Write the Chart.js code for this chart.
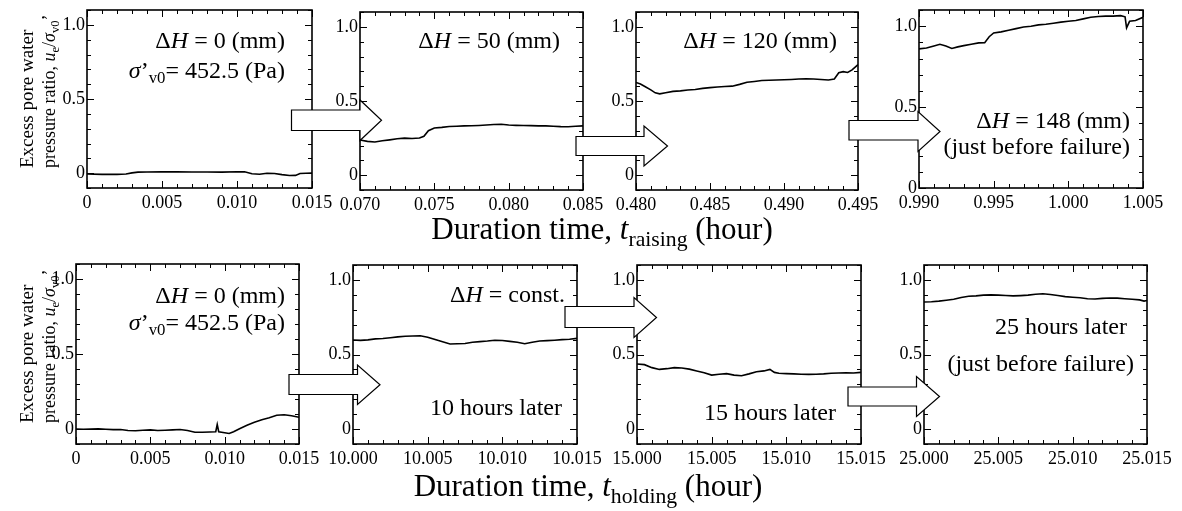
<!DOCTYPE html>
<html lang="en">
<head>
<meta charset="UTF-8">
<title>Excess pore water pressure ratio</title>
<script src="https://cdn.jsdelivr.net/npm/chart.js"></script>
<style>
  body { margin: 0; background: #fff; }
  #fig {
    position: relative; width: 1182px; height: 511px; overflow: hidden; background: #fff;
    font-family: 'Liberation Serif', 'Times New Roman', serif; color: #000;
  }
  .panel { position: absolute; }
  .note { position: absolute; font-size: 24px; line-height: 24px; white-space: nowrap; text-align: right; }
  .note sub, .ytitle sub, .xtitle sub { font-size: 0.7em; vertical-align: -0.3em; line-height: 0; }
  .ytitle {
    position: absolute; font-size: 19px; line-height: 22px; white-space: nowrap;
    transform-origin: 0 0; transform: rotate(-90deg);
  }
  .ytitle.l2 { font-size: 18px; }
  .xtitle { position: absolute; font-size: 31px; line-height: 32px; white-space: nowrap; transform: translateX(-50%); }
  #arrows { position: absolute; left: 0; top: 0; }
</style>
</head>
<body>
<div id="fig">
  <div id="charts"></div>

  <svg id="arrows" width="1182" height="511"></svg>

  <!-- y axis titles -->
  <div class="ytitle" style="left:16px; top:168px;">Excess pore water</div>
  <div class="ytitle l2" style="left:38px; top:168px;">pressure ratio, <i>u</i><sub>e</sub>/<i>σ</i><sub>v0</sub>’</div>
  <div class="ytitle" style="left:16px; top:423px;">Excess pore water</div>
  <div class="ytitle l2" style="left:38px; top:423px;">pressure ratio, <i>u</i><sub>e</sub>/<i>σ</i><sub>v0</sub>’</div>

  <!-- x axis titles -->
  <div class="xtitle" style="left:602px; top:213px;">Duration time, <i>t</i><sub>raising</sub> (hour)</div>
  <div class="xtitle" style="left:588px; top:470px;">Duration time, <i>t</i><sub>holding</sub> (hour)</div>

  <!-- notes inside panels -->
  <div class="note" style="right:897px; top:28px;">Δ<i>H</i> = 0 (mm)</div>
  <div class="note" style="right:897px; top:58px;"><i>σ</i>’<sub>v0</sub>= 452.5 (Pa)</div>
  <div class="note" style="right:622px; top:28px;">Δ<i>H</i> = 50 (mm)</div>
  <div class="note" style="right:345px; top:28px;">Δ<i>H</i> = 120 (mm)</div>
  <div class="note" style="right:52px; top:108px;">Δ<i>H</i> = 148 (mm)</div>
  <div class="note" style="right:52px; top:134px;">(just before failure)</div>

  <div class="note" style="right:897px; top:283px;">Δ<i>H</i> = 0 (mm)</div>
  <div class="note" style="right:897px; top:310px;"><i>σ</i>’<sub>v0</sub>= 452.5 (Pa)</div>
  <div class="note" style="right:617px; top:282px;">Δ<i>H</i> = const.</div>
  <div class="note" style="right:620px; top:395px;">10 hours later</div>
  <div class="note" style="right:346px; top:400px;">15 hours later</div>
  <div class="note" style="right:55px; top:314px;">25 hours later</div>
  <div class="note" style="right:48px; top:351px;">(just before failure)</div>
</div>

<script>
  const FONT = "'Liberation Serif', 'Times New Roman', serif";

  // y axis ticks (same for every panel)
  const yTicks = [0, 0.5, 1.0];
  const yLabels = ['0', '0.5', '1.0'];

  // ---- raising stage ----
  const xTicks1 = [0, 0.005, 0.010, 0.015];
  const xLabels1 = ['0', '0.005', '0.010', '0.015'];
  const t1 = [0, 0.001, 0.002, 0.0026, 0.0030, 0.0034, 0.004, 0.005, 0.006, 0.007, 0.008, 0.009,
              0.0100, 0.0105, 0.0110, 0.0115, 0.0120, 0.0125, 0.0130, 0.0135, 0.0139, 0.0142, 0.0150];
  const r1 = [-0.006, -0.008, -0.008, -0.006, 0.002, 0.007, 0.008, 0.009, 0.009, 0.008, 0.008, 0.007,
              0.010, 0.009, -0.004, -0.007, -0.001, -0.002, -0.010, -0.016, -0.015, -0.002, 0.001];

  const xTicks2 = [0.070, 0.075, 0.080, 0.085];
  const xLabels2 = ['0.070', '0.075', '0.080', '0.085'];
  const t2 = [0.0700, 0.0705, 0.0710, 0.0715, 0.0720, 0.0725, 0.0730, 0.0735, 0.0740, 0.0743, 0.0746,
              0.0750, 0.0755, 0.0760, 0.0765, 0.0770, 0.0775, 0.0780, 0.0785, 0.0790, 0.0795, 0.0800,
              0.0805, 0.0810, 0.0815, 0.0820, 0.0825, 0.0830, 0.0835, 0.0840, 0.0845, 0.0850];
  const r2 = [0.237, 0.228, 0.224, 0.232, 0.238, 0.245, 0.250, 0.247, 0.250, 0.262, 0.300,
              0.318, 0.322, 0.328, 0.330, 0.332, 0.333, 0.335, 0.338, 0.342, 0.343, 0.338,
              0.336, 0.335, 0.334, 0.332, 0.332, 0.330, 0.327, 0.326, 0.330, 0.332];

  const xTicks3 = [0.480, 0.485, 0.490, 0.495];
  const xLabels3 = ['0.480', '0.485', '0.490', '0.495'];
  const t3 = [0.4800, 0.4803, 0.4806, 0.4810, 0.4813, 0.4816, 0.4820, 0.4825, 0.4830, 0.4835, 0.4840,
              0.4845, 0.4850, 0.4855, 0.4860, 0.4865, 0.4870, 0.4875, 0.4880, 0.4885, 0.4890, 0.4895,
              0.4900, 0.4905, 0.4910, 0.4915, 0.4920, 0.4925, 0.4930, 0.4934, 0.4937, 0.4940, 0.4943,
              0.4946, 0.4950];
  const r3 = [0.625, 0.615, 0.598, 0.575, 0.555, 0.548, 0.556, 0.565, 0.568, 0.574, 0.578,
              0.585, 0.590, 0.594, 0.598, 0.600, 0.612, 0.626, 0.632, 0.638, 0.640, 0.642,
              0.643, 0.645, 0.648, 0.650, 0.648, 0.645, 0.642, 0.648, 0.690, 0.698, 0.692,
              0.710, 0.745];

  const xTicks4 = [0.990, 0.995, 1.000, 1.005];
  const xLabels4 = ['0.990', '0.995', '1.000', '1.005'];
  const t4 = [0.9900, 0.9905, 0.9910, 0.9914, 0.9918, 0.9922, 0.9926, 0.9930, 0.9935, 0.9940, 0.9944,
              0.9947, 0.9950, 0.9955, 0.9960, 0.9965, 0.9970, 0.9975, 0.9980, 0.9985, 0.9990, 0.9995,
              1.0000, 1.0005, 1.0010, 1.0015, 1.0020, 1.0025, 1.0030, 1.0035, 1.0038, 1.0039, 1.0041,
              1.0045, 1.0050];
  const r4 = [0.860, 0.865, 0.878, 0.888, 0.878, 0.862, 0.872, 0.880, 0.888, 0.897, 0.898,
              0.935, 0.958, 0.965, 0.975, 0.985, 0.995, 1.000, 1.008, 1.012, 1.018, 1.025,
              1.030, 1.035, 1.045, 1.055, 1.060, 1.062, 1.062, 1.065, 1.058, 0.990, 1.030,
              1.035, 1.055];

  // ---- holding stage ----
  const xTicks5 = [0, 0.005, 0.010, 0.015];
  const xLabels5 = ['0', '0.005', '0.010', '0.015'];
  const t5 = [0.0000, 0.0005, 0.0010, 0.0015, 0.0020, 0.0025, 0.0030, 0.0035, 0.0040, 0.0045, 0.0050,
              0.0055, 0.0060, 0.0065, 0.0070, 0.0075, 0.0080, 0.0085, 0.0090, 0.0094, 0.0095, 0.0096,
              0.0100, 0.0103, 0.0106, 0.0110, 0.0115, 0.0120, 0.0125, 0.0130, 0.0135, 0.0140, 0.0145,
              0.0150];
  const r5 = [0.000, -0.002, -0.001, 0.001, -0.002, -0.004, -0.003, -0.010, -0.012, -0.008, -0.006,
              -0.010, -0.008, -0.006, -0.003, -0.010, -0.022, -0.022, -0.020, -0.018, 0.030, -0.018,
              -0.025, -0.030, -0.018, 0.002, 0.025, 0.045, 0.062, 0.075, 0.092, 0.095, 0.088,
              0.078];

  const xTicks6 = [10.000, 10.005, 10.010, 10.015];
  const xLabels6 = ['10.000', '10.005', '10.010', '10.015'];
  const t6 = [10.0000, 10.0005, 10.0010, 10.0015, 10.0020, 10.0025, 10.0030, 10.0035, 10.0040, 10.0045,
              10.0050, 10.0055, 10.0060, 10.0065, 10.0070, 10.0075, 10.0080, 10.0085, 10.0090, 10.0095,
              10.0100, 10.0105, 10.0110, 10.0115, 10.0120, 10.0125, 10.0130, 10.0135, 10.0140, 10.0145,
              10.0150];
  const r6 = [0.597, 0.595, 0.598, 0.605, 0.607, 0.612, 0.618, 0.622, 0.624, 0.626,
              0.616, 0.600, 0.585, 0.570, 0.572, 0.574, 0.582, 0.586, 0.590, 0.596,
              0.594, 0.588, 0.582, 0.572, 0.582, 0.590, 0.593, 0.596, 0.600, 0.602,
              0.608];

  const xTicks7 = [15.000, 15.005, 15.010, 15.015];
  const xLabels7 = ['15.000', '15.005', '15.010', '15.015'];
  const t7 = [15.0000, 15.0005, 15.0010, 15.0015, 15.0020, 15.0025, 15.0030, 15.0035, 15.0040, 15.0045,
              15.0050, 15.0055, 15.0060, 15.0065, 15.0070, 15.0075, 15.0080, 15.0085, 15.0089, 15.0092,
              15.0095, 15.0100, 15.0105, 15.0110, 15.0115, 15.0120, 15.0125, 15.0130, 15.0135, 15.0140,
              15.0145, 15.0150];
  const r7 = [0.436, 0.432, 0.412, 0.400, 0.405, 0.412, 0.410, 0.402, 0.390, 0.378,
              0.362, 0.368, 0.372, 0.362, 0.358, 0.370, 0.384, 0.390, 0.400, 0.380,
              0.374, 0.372, 0.370, 0.368, 0.367, 0.368, 0.370, 0.374, 0.376, 0.378,
              0.376, 0.380];

  const xTicks8 = [25.000, 25.005, 25.010, 25.015];
  const xLabels8 = ['25.000', '25.005', '25.010', '25.015'];
  const t8 = [25.0000, 25.0005, 25.0010, 25.0015, 25.0020, 25.0025, 25.0030, 25.0035, 25.0040, 25.0045,
              25.0050, 25.0055, 25.0060, 25.0065, 25.0070, 25.0075, 25.0080, 25.0085, 25.0090, 25.0095,
              25.0100, 25.0105, 25.0110, 25.0115, 25.0120, 25.0125, 25.0130, 25.0135, 25.0140, 25.0145,
              25.0148, 25.0150];
  const r8 = [0.852, 0.854, 0.858, 0.864, 0.870, 0.882, 0.890, 0.893, 0.898, 0.900,
              0.898, 0.896, 0.893, 0.895, 0.898, 0.904, 0.907, 0.902, 0.895, 0.888,
              0.884, 0.880, 0.874, 0.872, 0.876, 0.879, 0.878, 0.874, 0.870, 0.866,
              0.858, 0.862];

  // plot-area box of each panel: [left, top, right, bottom] in page pixels
  const panels = [
    { box: [87, 10, 312, 188],   xMin: 0,     xMax: 0.015, yMin: -0.1, t: t1, r: r1, xt: xTicks1, xl: xLabels1 },
    { box: [360, 12, 583, 190],  xMin: 0.070, xMax: 0.085, yMin: -0.1, t: t2, r: r2, xt: xTicks2, xl: xLabels2 },
    { box: [636, 12, 858, 190],  xMin: 0.480, xMax: 0.495, yMin: -0.1, t: t3, r: r3, xt: xTicks3, xl: xLabels3 },
    { box: [919, 10, 1143, 188], xMin: 0.990, xMax: 1.005, yMin: 0,    t: t4, r: r4, xt: xTicks4, xl: xLabels4 },
    { box: [76, 264, 299, 444],  xMin: 0,      xMax: 0.015,  yMin: -0.1, t: t5, r: r5, xt: xTicks5, xl: xLabels5 },
    { box: [353, 265, 577, 444], xMin: 10.000, xMax: 10.015, yMin: -0.1, t: t6, r: r6, xt: xTicks6, xl: xLabels6 },
    { box: [637, 265, 861, 444], xMin: 15.000, xMax: 15.015, yMin: -0.1, t: t7, r: r7, xt: xTicks7, xl: xLabels7 },
    { box: [924, 265, 1147, 444], xMin: 25.000, xMax: 25.015, yMin: -0.1, t: t8, r: r8, xt: xTicks8, xl: xLabels8 }
  ];

  // margins around the plot area inside each canvas (room for tick labels)
  const PL = 42, PT = 14, PR = 34, PB = 30;

  // frame + inward ticks on all four sides
  const frameTicks = {
    id: 'frameTicks',
    afterDatasetsDraw(chart) {
      const { ctx, chartArea: a } = chart;
      const x = chart.scales.x, y = chart.scales.y;
      const xStep = 0.001, yStep = 0.1;
      ctx.save();
      ctx.strokeStyle = '#000';
      ctx.lineWidth = 1;
      ctx.beginPath();
      const nx = Math.round((x.max - x.min) / xStep);
      for (let i = 0; i <= nx; i++) {
        const px = Math.round(x.getPixelForValue(x.min + i * xStep)) + 0.5;
        const len = i % 5 === 0 ? 7 : 4;
        ctx.moveTo(px, a.bottom); ctx.lineTo(px, a.bottom - len);
        ctx.moveTo(px, a.top); ctx.lineTo(px, a.top + len);
      }
      const k0 = Math.ceil(y.min / yStep - 1e-6), k1 = Math.floor(y.max / yStep + 1e-6);
      for (let k = k0; k <= k1; k++) {
        const py = Math.round(y.getPixelForValue(k * yStep)) + 0.5;
        const len = k % 5 === 0 ? 7 : 4;
        ctx.moveTo(a.left, py); ctx.lineTo(a.left + len, py);
        ctx.moveTo(a.right, py); ctx.lineTo(a.right - len, py);
      }
      ctx.stroke();
      ctx.lineWidth = 1.6;
      ctx.strokeRect(a.left, a.top, a.right - a.left, a.bottom - a.top);
      ctx.restore();
    }
  };

  const holder = document.getElementById('charts');
  panels.forEach((p, n) => {
    const [l, t, r, b] = p.box;
    const w = r - l + PL + PR, h = b - t + PT + PB;
    const div = document.createElement('div');
    div.className = 'panel';
    div.style.left = (l - PL) + 'px';
    div.style.top = (t - PT) + 'px';
    const cv = document.createElement('canvas');
    cv.width = w; cv.height = h;
    cv.style.width = w + 'px'; cv.style.height = h + 'px';
    div.appendChild(cv);
    holder.appendChild(div);

    new Chart(cv.getContext('2d'), {
      type: 'line',
      data: {
        datasets: [{
          data: p.t.map((v, i) => ({ x: v, y: p.r[i] })),
          borderColor: '#000',
          borderWidth: 1.6,
          pointRadius: 0,
          tension: 0,
          fill: false
        }]
      },
      options: {
        responsive: false,
        animation: false,
        layout: { padding: { left: 0, top: PT, right: PR, bottom: 0 } },
        plugins: { legend: { display: false }, tooltip: { enabled: false } },
        scales: {
          x: {
            type: 'linear', min: p.xMin, max: p.xMax,
            grid: { display: false, drawTicks: false }, border: { display: false },
            ticks: {
              color: '#000', font: { family: FONT, size: 18 }, padding: 4,
              maxRotation: 0, autoSkip: false,
              callback: (v, i) => p.xl[i]
            },
            afterBuildTicks: s => { s.ticks = p.xt.map(v => ({ value: v })); },
            afterFit: s => { s.height = PB; s.paddingLeft = 0; s.paddingRight = 0; }
          },
          y: {
            type: 'linear', min: p.yMin, max: 1.1,
            grid: { display: false, drawTicks: false }, border: { display: false },
            ticks: {
              color: '#000', font: { family: FONT, size: 18 }, padding: 2,
              autoSkip: false,
              callback: (v, i) => yLabels[i]
            },
            afterBuildTicks: s => { s.ticks = yTicks.map(v => ({ value: v })); },
            afterFit: s => { s.width = PL; s.paddingTop = 0; s.paddingBottom = 0; }
          }
        }
      },
      plugins: [frameTicks]
    });
  });

  // hollow block arrows between panels
  // [bodyLeft, bodyTop, bodyBottom, headBase, headTop, headBottom, tipX]
  const arrows = [
    [291.5, 110, 130.5, 360, 100, 140.5, 381.5],
    [576, 136.5, 155.5, 644, 126, 166, 667.5],
    [849, 120.5, 140, 918, 111.5, 151.5, 940],
    [289, 374.5, 394.5, 357.5, 365, 404.5, 380],
    [565, 306.5, 327.5, 634, 297.5, 337.5, 656.5],
    [848, 387, 406, 916.5, 376.5, 416.5, 939.5]
  ];
  const svg = document.getElementById('arrows');
  arrows.forEach(a => {
    const [x0, y1, y2, x1, y3, y4, x2] = a;
    const ym = (y3 + y4) / 2;
    const pts = [[x0, y1], [x1, y1], [x1, y3], [x2, ym], [x1, y4], [x1, y2], [x0, y2]];
    const poly = document.createElementNS('http://www.w3.org/2000/svg', 'polygon');
    poly.setAttribute('points', pts.map(q => q.join(',')).join(' '));
    poly.setAttribute('fill', '#fff');
    poly.setAttribute('stroke', '#000');
    poly.setAttribute('stroke-width', '1.2');
    svg.appendChild(poly);
  });
</script>
</body>
</html>
